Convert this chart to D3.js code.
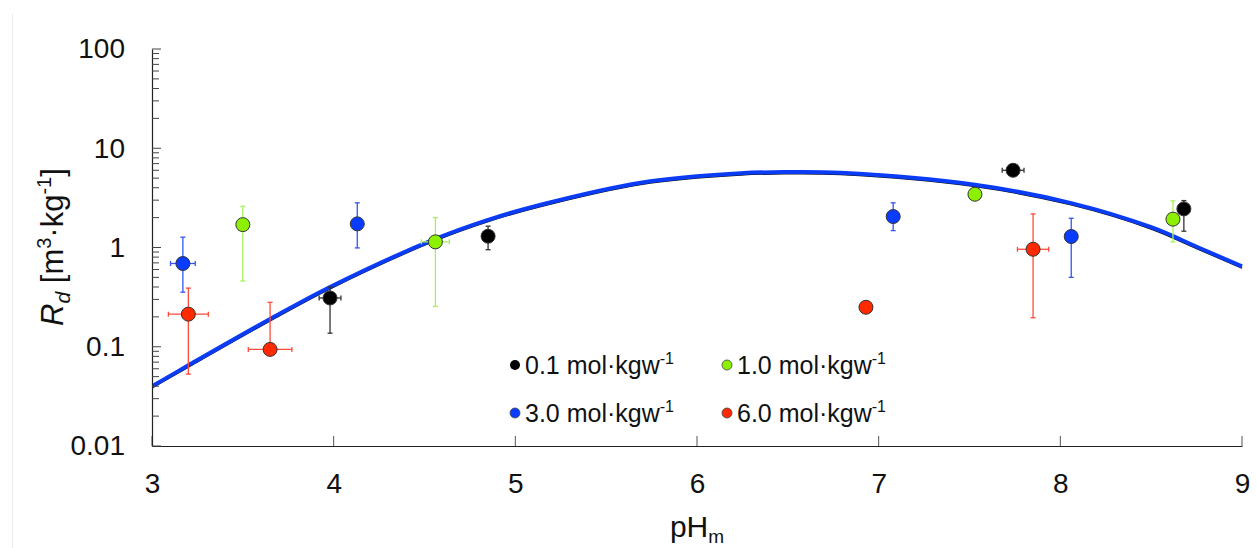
<!DOCTYPE html>
<html>
<head>
<meta charset="utf-8">
<script src="https://cdn.jsdelivr.net/npm/d3@7/dist/d3.min.js"></script>
<style>
  html, body { margin: 0; padding: 0; background: #fff; }
  svg { display: block; font-family: "Liberation Sans", Arial, sans-serif; }
</style>
</head>
<body>
<svg id="chart"></svg>
<script>
// Rd vs pHm, four ionic strengths, log y axis

// model curve (pH, Rd)
const curvePh = [3.0, 3.2, 3.65, 3.98, 4.55, 4.85, 5.14, 5.69, 6.24, 6.5, 6.79, 7.53, 8.06, 8.5, 8.76, 9.0];
const curveRd = [0.040, 0.065, 0.19, 0.40, 1.2, 1.9, 2.7, 4.5, 5.6, 5.75, 5.65, 4.28, 2.8, 1.6, 1.0, 0.645];

// measured points: pH, Rd, pH error, lower / upper Rd bound
const pts01 = [
    { ph: 3.98, rd: 0.31, phErr: 0.06, lo: 0.137, hi: 0.40 },
    { ph: 4.85, rd: 1.30, phErr: 0.03, lo: 0.95, hi: 1.64 },
    { ph: 7.74, rd: 6.0, phErr: 0.06, lo: 5.5, hi: 6.5 },
    { ph: 8.68, rd: 2.45, phErr: 0.03, lo: 1.46, hi: 2.97 }
];
const pts10 = [
    { ph: 3.50, rd: 1.70, phErr: 0, lo: 0.46, hi: 2.6 },
    { ph: 4.56, rd: 1.14, phErr: 0.077, lo: 0.255, hi: 2.0 },
    { ph: 7.53, rd: 3.44, phErr: 0, lo: 3.44, hi: 3.44 },
    { ph: 8.62, rd: 1.93, phErr: 0, lo: 1.14, hi: 2.95 }
];
const pts30 = [
    { ph: 3.17, rd: 0.69, phErr: 0.068, lo: 0.355, hi: 1.27 },
    { ph: 4.13, rd: 1.73, phErr: 0, lo: 0.99, hi: 2.82 },
    { ph: 7.08, rd: 2.05, phErr: 0, lo: 1.48, hi: 2.82 },
    { ph: 8.06, rd: 1.29, phErr: 0, lo: 0.50, hi: 1.97 }
];
const pts60 = [
    { ph: 3.20, rd: 0.213, phErr: 0.11, lo: 0.053, hi: 0.39 },
    { ph: 3.65, rd: 0.094, phErr: 0.12, lo: 0.094, hi: 0.28 },
    { ph: 6.93, rd: 0.25, phErr: 0, lo: 0.25, hi: 0.25 },
    { ph: 7.85, rd: 0.96, phErr: 0.086, lo: 0.196, hi: 2.18 }
];

const seriesNames = ['0.1', '1.0', '3.0', '6.0'];
const seriesFill = ['#000000', '#8cf000', '#0a3cff', '#ff2a00'];
const seriesBar = ['#333333', '#a6f25a', '#3355ee', '#ff4a3a'];
const seriesPts = [pts01, pts10, pts30, pts60];

const xTicks = [3, 4, 5, 6, 7, 8, 9];
const yTicks = [0.01, 0.1, 1, 10, 100];
const yTickLabels = ['0.01', '0.1', '1', '10', '100'];

(function() {
    'use strict';

    const width = 1257, height = 548;
    const margin = { top: 49, right: 15, bottom: 102, left: 152 };
    const innerWidth = 1242 - margin.left;
    const innerHeight = 446 - margin.top;

    const svg = d3.select('#chart')
        .attr('width', width)
        .attr('height', height);

    // faint page edge on the left
    svg.append('line')
        .attr('x1', 12.5).attr('x2', 12.5)
        .attr('y1', 14).attr('y2', height)
        .attr('stroke', '#ececec')
        .attr('stroke-width', 1);

    const g = svg.append('g')
        .attr('transform', `translate(${margin.left}, ${margin.top})`);

    const xScale = d3.scaleLinear().domain([3, 9]).range([0, innerWidth]);
    const yScale = d3.scaleLog().domain([0.01, 100]).range([innerHeight, 0]);

    g.append('clipPath').attr('id', 'plot-clip')
        .append('rect')
        .attr('x', 0).attr('y', 0)
        .attr('width', innerWidth + 4).attr('height', innerHeight);

    // Model curve (thin dark line under the blue one)
    const curveData = curvePh.map((p, i) => ({ ph: p, rd: curveRd[i] }));
    const line = d3.line()
        .x(d => xScale(d.ph))
        .y(d => yScale(d.rd))
        .curve(d3.curveCatmullRom.alpha(0.5));

    const curveG = g.append('g').attr('clip-path', 'url(#plot-clip)');
    curveG.append('path')
        .datum(curveData)
        .attr('fill', 'none')
        .attr('stroke', '#111')
        .attr('stroke-width', 2)
        .attr('transform', 'translate(0, 1.5)')
        .attr('d', line);
    curveG.append('path')
        .datum(curveData)
        .attr('fill', 'none')
        .attr('stroke', '#0a3cf5')
        .attr('stroke-width', 4)
        .attr('d', line);

    // Axes
    const axisColor = '#222';
    const xAxis = g.append('g')
        .attr('transform', `translate(0, ${innerHeight})`)
        .call(d3.axisBottom(xScale).tickValues(xTicks).tickSize(0).tickPadding(27).tickFormat(d3.format('d')));
    xAxis.select('.domain').attr('stroke', axisColor).attr('stroke-width', 1.2);
    xAxis.selectAll('text').style('font-size', '28px').attr('fill', '#111');

    g.selectAll('.x-tick')
        .data(xTicks)
        .enter()
        .append('line')
        .attr('class', 'x-tick')
        .attr('x1', d => xScale(d)).attr('x2', d => xScale(d))
        .attr('y1', innerHeight).attr('y2', innerHeight - 10)
        .attr('stroke', '#555').attr('stroke-width', 1);

    const yAxis = g.append('g')
        .call(d3.axisLeft(yScale).tickValues(yTicks).tickSize(0).tickPadding(27)
            .tickFormat((d, i) => yTickLabels[i]));
    yAxis.select('.domain').attr('stroke', axisColor).attr('stroke-width', 1.2);
    yAxis.selectAll('text').style('font-size', '28px').attr('fill', '#111');

    // y ticks inside: decades + minor 2..9
    const minor = [];
    yTicks.slice(0, -1).forEach(t => {
        for (let k = 1; k <= 9; k++) minor.push({ v: t * k, major: k === 1 });
    });
    minor.push({ v: 100, major: true });
    g.selectAll('.y-tick')
        .data(minor)
        .enter()
        .append('line')
        .attr('class', 'y-tick')
        .attr('x1', 0).attr('x2', d => d.major ? 9 : 7)
        .attr('y1', d => yScale(d.v)).attr('y2', d => yScale(d.v))
        .attr('stroke', '#444').attr('stroke-width', 1);

    // Error bars and points
    const cap = 2.5;
    seriesPts.forEach((pts, si) => {
        const sg = g.append('g');
        const barColor = seriesBar[si];

        pts.forEach(d => {
            const cx = xScale(d.ph), cy = yScale(d.rd);
            if (d.lo !== d.hi) {
                const y1 = yScale(d.hi), y2 = yScale(d.lo);
                sg.append('line').attr('x1', cx).attr('x2', cx).attr('y1', y1).attr('y2', y2)
                    .attr('stroke', barColor).attr('stroke-width', 1.3);
                [y1, y2].forEach(yy => {
                    sg.append('line').attr('x1', cx - cap).attr('x2', cx + cap).attr('y1', yy).attr('y2', yy)
                        .attr('stroke', barColor).attr('stroke-width', 1.3);
                });
            }
            if (d.phErr > 0) {
                const x1 = xScale(d.ph - d.phErr), x2 = xScale(d.ph + d.phErr);
                sg.append('line').attr('x1', x1).attr('x2', x2).attr('y1', cy).attr('y2', cy)
                    .attr('stroke', barColor).attr('stroke-width', 1.3);
                [x1, x2].forEach(xx => {
                    sg.append('line').attr('x1', xx).attr('x2', xx).attr('y1', cy - cap).attr('y2', cy + cap)
                        .attr('stroke', barColor).attr('stroke-width', 1.3);
                });
            }
        });

        sg.selectAll('circle')
            .data(pts)
            .enter()
            .append('circle')
            .attr('cx', d => xScale(d.ph))
            .attr('cy', d => yScale(d.rd))
            .attr('r', 7)
            .attr('fill', seriesFill[si])
            .attr('stroke', '#333')
            .attr('stroke-width', 1);
    });

    // Legend
    const legendPos = [[363, 316], [575, 316], [363, 364], [575, 364]];
    seriesNames.forEach((name, i) => {
        const lg = g.append('g')
            .attr('transform', `translate(${legendPos[i][0]}, ${legendPos[i][1]})`);
        lg.append('circle')
            .attr('cx', 0).attr('cy', 0).attr('r', 5)
            .attr('fill', seriesFill[i])
            .attr('stroke', i === 0 ? 'none' : '#444')
            .attr('stroke-width', 0.8);
        const t = lg.append('text')
            .attr('x', 10).attr('y', 9)
            .style('font-size', '25px')
            .attr('fill', '#111');
        t.append('tspan').text(name + ' mol·kgw');
        t.append('tspan').attr('dy', -10).style('font-size', '16px').text('-1');
    });

    // Axis labels
    const xl = svg.append('text')
        .attr('x', 697).attr('y', 537)
        .attr('text-anchor', 'middle')
        .style('font-size', '30px')
        .attr('fill', '#111');
    xl.append('tspan').text('pH');
    xl.append('tspan').attr('dy', 6).style('font-size', '19px').text('m');

    const yl = svg.append('text')
        .attr('transform', 'translate(63, 247) rotate(-90)')
        .attr('text-anchor', 'middle')
        .style('font-size', '31px')
        .attr('fill', '#111');
    yl.append('tspan').style('font-style', 'italic').text('R');
    yl.append('tspan').attr('dy', 7).style('font-style', 'italic').style('font-size', '21px').text('d');
    yl.append('tspan').attr('dy', -7).text(' [m');
    yl.append('tspan').attr('dy', -12).style('font-size', '20px').text('3');
    yl.append('tspan').attr('dy', 12).text('·kg');
    yl.append('tspan').attr('dy', -12).style('font-size', '20px').text('-1');
    yl.append('tspan').attr('dy', 12).text(']');
})();
</script>
</body>
</html>
